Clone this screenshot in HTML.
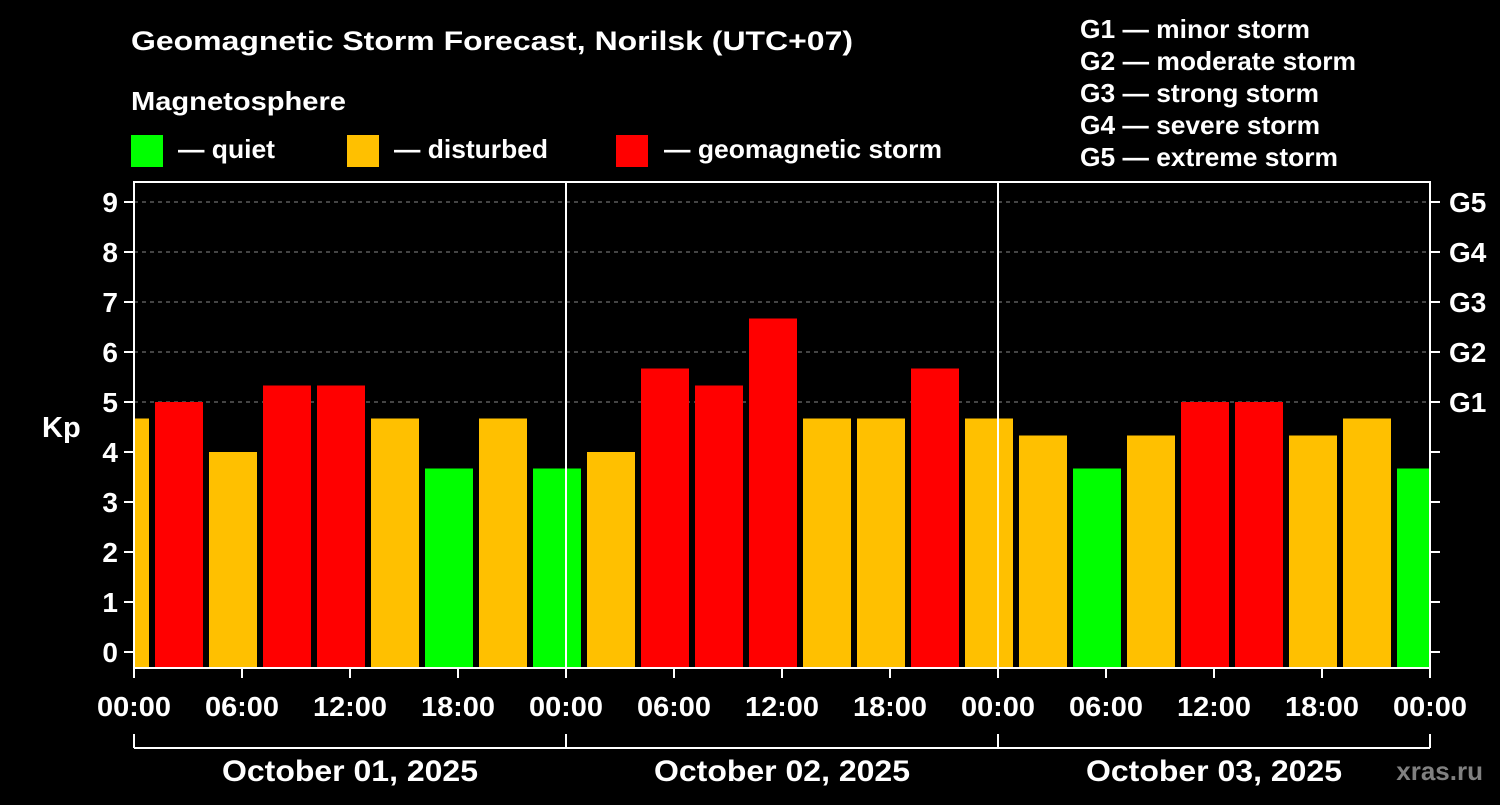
<!DOCTYPE html>
<html><head><meta charset="utf-8"><style>
body{margin:0;background:#000;width:1500px;height:800px;overflow:hidden;font-family:"Liberation Sans",sans-serif;}
svg text{font-family:"Liberation Sans",sans-serif;font-weight:bold;fill:#fff;}
</style></head><body>
<svg id="c" width="1500" height="800" xmlns="http://www.w3.org/2000/svg">
<text x="131" y="50" font-size="27" textLength="722" lengthAdjust="spacingAndGlyphs">Geomagnetic Storm Forecast, Norilsk (UTC+07)</text>
<text x="131" y="110" font-size="26" textLength="215" lengthAdjust="spacingAndGlyphs">Magnetosphere</text>
<g><rect x="131" y="135" width="32" height="32" fill="#00ff00"/><text x="178" y="158" font-size="26" textLength="97" lengthAdjust="spacingAndGlyphs">— quiet</text></g>
<g><rect x="347" y="135" width="32" height="32" fill="#ffc000"/><text x="394" y="158" font-size="26" textLength="154" lengthAdjust="spacingAndGlyphs">— disturbed</text></g>
<g><rect x="616" y="135" width="32" height="32" fill="#ff0000"/><text x="664" y="158" font-size="26" textLength="278" lengthAdjust="spacingAndGlyphs">— geomagnetic storm</text></g>
<g font-size="26">
<text x="1080" y="38" textLength="230" lengthAdjust="spacingAndGlyphs">G1 — minor storm</text>
<text x="1080" y="70" textLength="276" lengthAdjust="spacingAndGlyphs">G2 — moderate storm</text>
<text x="1080" y="102" textLength="239" lengthAdjust="spacingAndGlyphs">G3 — strong storm</text>
<text x="1080" y="134" textLength="240" lengthAdjust="spacingAndGlyphs">G4 — severe storm</text>
<text x="1080" y="166" textLength="258" lengthAdjust="spacingAndGlyphs">G5 — extreme storm</text>
</g>
<g id="grid"></g><g id="bars"></g><g id="axes"></g>
<text x="1483" y="780" font-size="26" text-anchor="end" style="fill:#808080">xras.ru</text>
</svg>
<script>
const kpValues=[4.67,5,4,5.33,5.33,4.67,3.67,4.67,3.67,4,5.67,5.33,6.67,4.67,4.67,5.67,4.67,4.33,3.67,4.33,5,5,4.33,4.67,3.67];
const barHours=kpValues.map((v,i)=>-0.5+3*i);
const kpTicks=[0,1,2,3,4,5,6,7,8,9];
const gLabels=[[5,'G1'],[6,'G2'],[7,'G3'],[8,'G4'],[9,'G5']];
const hourLabels=['00:00','06:00','12:00','18:00','00:00','06:00','12:00','18:00','00:00','06:00','12:00','18:00','00:00'];
const dayLabels=['October 01, 2025','October 02, 2025','October 03, 2025'];
const L=134,R=1430,T=182,B=668;
const x=h=>L+h*18, y=k=>652-50*k;
const NS='http://www.w3.org/2000/svg';
function mk(p,t,a,txt){const e=document.createElementNS(NS,t);for(const k in a)e.setAttribute(k,a[k]);if(txt!=null)e.textContent=txt;document.getElementById(p).appendChild(e);return e;}
gLabels.forEach(g=>{const e=mk('grid','line',{x1:L,x2:R,y1:y(g[0]),y2:y(g[0]),stroke:'#888','stroke-dasharray':'4,4','stroke-width':1});

});
kpValues.forEach((v,i)=>{let x0=x(barHours[i])-24,x1=x0+48;x0=Math.max(x0,L+1);x1=Math.min(x1,R-1);
const c=v<3.9?'#00ff00':(v<4.9?'#ffc000':'#ff0000');
const e=mk('bars','rect',{x:x0,y:y(v),width:x1-x0,height:y(0)+16-y(v),fill:c});

});
mk('axes','rect',{x:L,y:T,width:R-L,height:B-T,fill:'none',stroke:'#fff','stroke-width':2});
[24,48].forEach(h=>{mk('axes','line',{x1:x(h),x2:x(h),y1:T,y2:B,stroke:'#fff','stroke-width':2});});
kpTicks.forEach(k=>{mk('axes','line',{x1:L-10,x2:L,y1:y(k),y2:y(k),stroke:'#fff','stroke-width':2});
mk('axes','line',{x1:R,x2:R+10,y1:y(k),y2:y(k),stroke:'#fff','stroke-width':2});
const t=mk('axes','text',{x:L-16,y:y(k)+10,'font-size':28,'text-anchor':'end'},String(k));

});
gLabels.forEach(g=>{const t=mk('axes','text',{x:R+19,y:y(g[0])+10,'font-size':28},g[1]);

});
const yt=mk('axes','text',{x:42,y:437,'font-size':29},'Kp');


hourLabels.forEach((s,i)=>{const h=i*6;mk('axes','line',{x1:x(h),x2:x(h),y1:B,y2:B+10,stroke:'#fff','stroke-width':2});
const t=mk('axes','text',{x:x(h),y:716,'font-size':28,'text-anchor':'middle',textLength:74,lengthAdjust:'spacingAndGlyphs'},s);

});
mk('axes','line',{x1:L,x2:R,y1:748,y2:748,stroke:'#fff','stroke-width':2});
[0,24,48,72].forEach(h=>mk('axes','line',{x1:x(h),x2:x(h),y1:734,y2:748,stroke:'#fff','stroke-width':2}));
dayLabels.forEach((s,i)=>{const t=mk('axes','text',{x:x(12+24*i),y:781,'font-size':30,'text-anchor':'middle',textLength:256,lengthAdjust:'spacingAndGlyphs'},s);

});
</script>
</body></html>
